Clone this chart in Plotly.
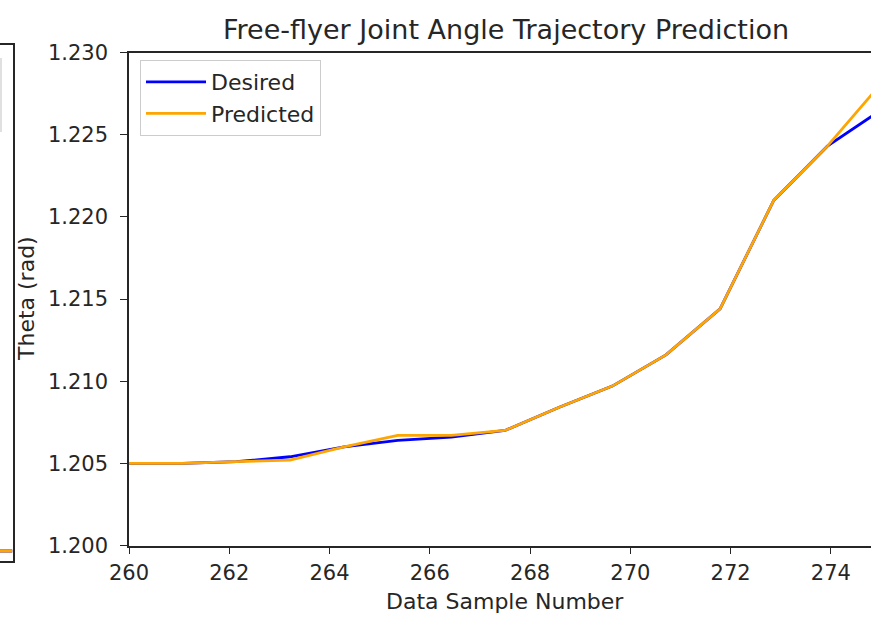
import plotly.graph_objects as go

# Sample index of each prediction step (15 samples between 260 and 275)
sample_number = [260.0, 261.07, 262.14, 263.21, 264.29, 265.36, 266.43, 267.5,
                 268.57, 269.64, 270.71, 271.79, 272.86, 273.93, 275.0]
desired = [1.2050, 1.2050, 1.2051, 1.2054, 1.2060, 1.2064, 1.2066, 1.2070,
           1.2084, 1.2097, 1.2116, 1.2144, 1.2210, 1.2243, 1.2265]
predicted = [1.2050, 1.2050, 1.2051, 1.2052, 1.2060, 1.2067, 1.2067, 1.2070,
             1.2084, 1.2097, 1.2116, 1.2144, 1.2210, 1.2243, 1.2281]

x_ticks = [260, 262, 264, 266, 268, 270, 272, 274]
y_ticks = [1.200, 1.205, 1.210, 1.215, 1.220, 1.225, 1.230]

# Tail end of the neighbouring panel on the left
left_x = [0.0, 1.0]
left_desired = [1.2012, 1.2012]
left_predicted = [1.2012, 1.2012]

W, H = 871, 617
FONT = "DejaVu Sans"
BLUE = "#0000ff"
ORANGE = "#ffa500"
INK = "#262626"


def px_x(p):
    return p / W


def px_y(p):
    return 1 - p / H


fig = go.Figure()

fig.add_trace(go.Scatter(x=sample_number, y=desired, mode="lines", name="Desired",
                         line=dict(color=BLUE, width=2.8)))
fig.add_trace(go.Scatter(x=sample_number, y=predicted, mode="lines", name="Predicted",
                         line=dict(color=ORANGE, width=2.8)))

fig.add_trace(go.Scatter(x=left_x, y=left_desired, mode="lines", showlegend=False,
                         line=dict(color=BLUE, width=2.8), xaxis="x2", yaxis="y2"))
fig.add_trace(go.Scatter(x=left_x, y=left_predicted, mode="lines", showlegend=False,
                         line=dict(color=ORANGE, width=2.8), xaxis="x2", yaxis="y2"))

tick_font = dict(family=FONT, size=21, color=INK)
label_font = dict(family=FONT, size=22, color=INK)

fig.update_layout(
    width=W, height=H,
    margin=dict(l=0, r=0, t=0, b=0, autoexpand=False),
    paper_bgcolor="white", plot_bgcolor="white",
    font=dict(family=FONT, size=21, color=INK),
    title=dict(text="Free-flyer Joint Angle Trajectory Prediction",
               x=px_x(506), y=px_y(30), xanchor="center", yanchor="middle",
               font=dict(family=FONT, size=27, color=INK)),
    xaxis=dict(domain=[px_x(129), 1.0], range=[260, 274.8],
               tickvals=x_ticks, ticktext=[str(v) for v in x_ticks],
               showgrid=False, zeroline=False, showline=True, mirror=True,
               linecolor=INK, linewidth=1.6, ticks="outside", ticklen=7,
               tickwidth=1.4, tickcolor=INK, tickfont=tick_font,
               ticklabelstandoff=0, automargin=False),
    yaxis=dict(domain=[px_y(545.5), px_y(52.5)], range=[1.200, 1.230],
               tickvals=y_ticks, tickformat=".3f",
               showgrid=False, zeroline=False, showline=True, mirror=False,
               linecolor=INK, linewidth=1.6, ticks="outside", ticklen=7,
               tickwidth=1.4, tickcolor=INK, tickfont=tick_font,
               ticklabelstandoff=8, automargin=False),
    xaxis2=dict(domain=[0.0, px_x(12.5)], range=[0, 1], anchor="y2",
                showgrid=False, zeroline=False, showline=True, mirror=True,
                linecolor=INK, linewidth=1.6, showticklabels=False, ticks="",
                automargin=False),
    yaxis2=dict(domain=[px_y(561), px_y(44.5)], range=[1.200, 1.262], anchor="x2",
                side="right", showgrid=False, zeroline=False, showline=True,
                linecolor=INK, linewidth=1.6, showticklabels=False, ticks="",
                automargin=False),
    legend=dict(x=px_x(140), y=px_y(60), xanchor="left", yanchor="top",
                bgcolor="rgba(255,255,255,0.8)", bordercolor="#cccccc", borderwidth=1,
                font=label_font, itemwidth=60, tracegroupgap=0),
    showlegend=True,
)

# Right edge of the neighbouring panel's legend frame
fig.add_shape(type="line", xref="paper", yref="paper",
              x0=px_x(1), x1=px_x(1), y0=px_y(58), y1=px_y(132),
              line=dict(color="#cccccc", width=1.2))

fig.add_annotation(text="Data Sample Number", xref="paper", yref="paper",
                   x=px_x(505), y=px_y(601), xanchor="center", yanchor="middle",
                   showarrow=False, font=label_font)
fig.add_annotation(text="Theta (rad)", xref="paper", yref="paper",
                   x=px_x(27), y=px_y(299), xanchor="center", yanchor="middle",
                   textangle=-90, showarrow=False, font=label_font)

fig.write_html("out.html")
